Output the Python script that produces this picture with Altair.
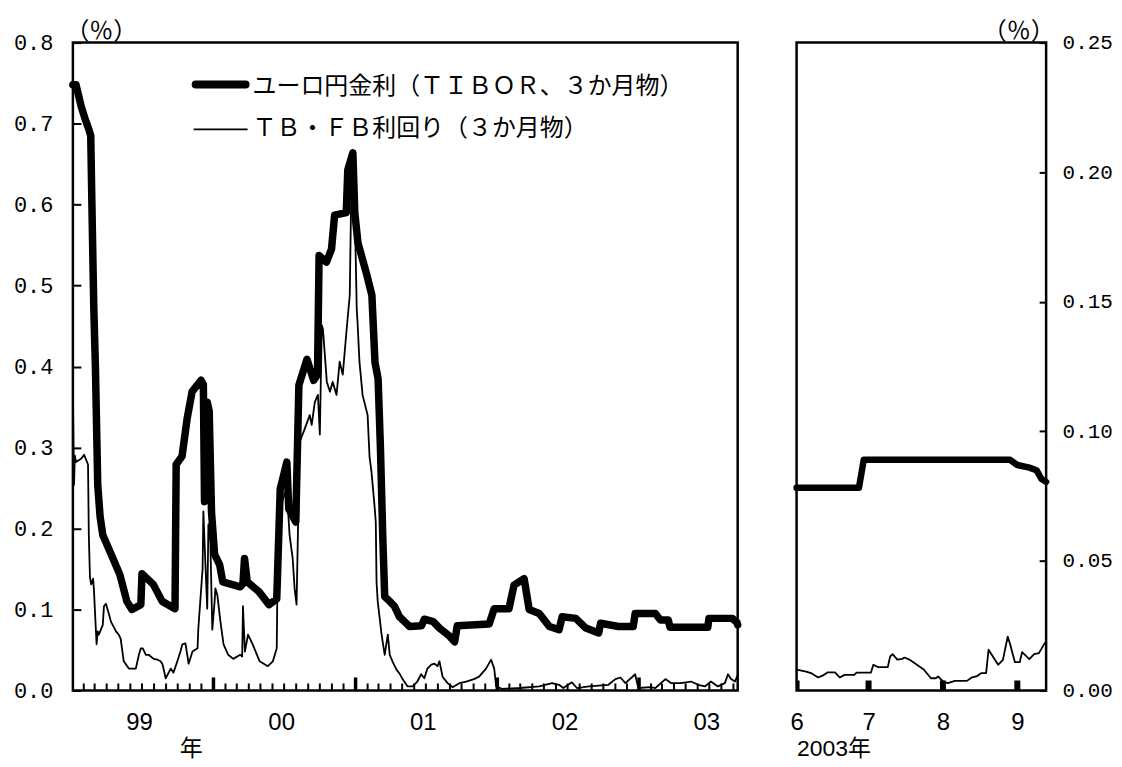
import altair as alt
import pandas as pd

# ---------------- data ----------------
tibor_dates = [
    "1999-01-04", "1999-01-12", "1999-01-25", "1999-02-05", "1999-02-14", "1999-02-19", "1999-02-22",
    "1999-02-25", "1999-02-27", "1999-03-03", "1999-03-09", "1999-03-15", "1999-03-22", "1999-04-10",
    "1999-05-05", "1999-05-23", "1999-06-05", "1999-06-28", "1999-07-01", "1999-07-30", "1999-08-22",
    "1999-09-24", "1999-09-27", "1999-10-12", "1999-10-25", "1999-11-07", "1999-11-30", "1999-12-06",
    "1999-12-09", "1999-12-13", "1999-12-16", "1999-12-21", "1999-12-27", "2000-01-04", "2000-01-17",
    "2000-01-25", "2000-03-10", "2000-03-17", "2000-03-21", "2000-03-28", "2000-04-27", "2000-05-23",
    "2000-06-12", "2000-06-21", "2000-07-08", "2000-07-13", "2000-07-31", "2000-08-08", "2000-08-29",
    "2000-09-15", "2000-09-25", "2000-09-29", "2000-10-18", "2000-10-31", "2000-11-08", "2000-12-08",
    "2000-12-12", "2000-12-25", "2000-12-30", "2001-01-07", "2001-01-30", "2001-02-12", "2001-02-20",
    "2001-02-28", "2001-03-06", "2001-03-12", "2001-03-17", "2001-03-30", "2001-04-11", "2001-04-24",
    "2001-05-07", "2001-05-20", "2001-06-20", "2001-06-27", "2001-07-20", "2001-08-05", "2001-08-31",
    "2001-09-13", "2001-09-20", "2001-12-11", "2001-12-24", "2002-01-31", "2002-02-13", "2002-03-11",
    "2002-03-24", "2002-04-19", "2002-05-15", "2002-06-09", "2002-06-17", "2002-07-22", "2002-08-17",
    "2002-09-19", "2002-09-24", "2002-11-09", "2002-12-17", "2002-12-22", "2003-02-12", "2003-02-25",
    "2003-03-17", "2003-03-22", "2003-06-27", "2003-06-30", "2003-08-29", "2003-09-05", "2003-09-10",
    "2003-09-12",
]
tibor_vals = [
    0.748, 0.748, 0.722, 0.705, 0.693, 0.685, 0.600,
    0.520, 0.470, 0.400, 0.254, 0.215, 0.192, 0.171,
    0.143, 0.110, 0.100, 0.106, 0.144, 0.131, 0.110,
    0.101, 0.279, 0.289, 0.335, 0.369, 0.383, 0.378,
    0.233, 0.235, 0.356, 0.345, 0.220, 0.168, 0.155,
    0.134, 0.128, 0.132, 0.163, 0.134, 0.122, 0.106,
    0.113, 0.249, 0.282, 0.224, 0.208, 0.377, 0.409,
    0.383, 0.390, 0.537, 0.529, 0.545, 0.587, 0.590,
    0.643, 0.664, 0.590, 0.553, 0.513, 0.488, 0.405,
    0.385, 0.300, 0.190, 0.116, 0.110, 0.104, 0.091,
    0.085, 0.079, 0.080, 0.088, 0.085, 0.077, 0.067,
    0.060, 0.080, 0.082, 0.101, 0.101, 0.130, 0.138,
    0.100, 0.095, 0.079, 0.075, 0.091, 0.089, 0.077,
    0.071, 0.083, 0.079, 0.079, 0.095, 0.095, 0.087,
    0.087, 0.078, 0.078, 0.089, 0.089, 0.086, 0.084,
    0.081,
]

tb_dates = [
    "1999-01-04", "1999-01-07", "1999-01-09", "1999-01-12", "1999-01-25", "1999-02-02", "1999-02-12",
    "1999-02-14", "1999-02-17", "1999-02-20", "1999-02-25", "1999-02-27", "1999-03-06", "1999-03-09",
    "1999-03-12", "1999-03-22", "1999-03-25", "1999-03-30", "1999-04-07", "1999-04-12", "1999-04-25",
    "1999-05-02", "1999-05-07", "1999-05-15", "1999-05-28", "1999-06-10", "1999-06-15", "1999-06-23",
    "1999-06-28", "1999-07-03", "1999-07-11", "1999-07-18", "1999-07-31", "1999-08-10", "1999-08-18",
    "1999-08-23", "1999-08-31", "1999-09-13", "1999-09-20", "1999-09-30", "1999-10-08", "1999-10-13",
    "1999-10-21", "1999-10-29", "1999-11-08", "1999-11-21", "1999-11-23", "1999-12-04", "1999-12-06",
    "1999-12-11", "1999-12-16", "1999-12-19", "1999-12-24", "1999-12-29", "2000-01-04", "2000-01-06",
    "2000-01-11", "2000-01-19", "2000-01-27", "2000-02-08", "2000-02-21", "2000-03-10", "2000-03-15",
    "2000-03-17", "2000-03-22", "2000-03-30", "2000-04-11", "2000-04-29", "2000-05-20", "2000-06-02",
    "2000-06-12", "2000-06-14", "2000-06-25", "2000-07-08", "2000-07-15", "2000-07-23", "2000-07-28",
    "2000-08-02", "2000-08-10", "2000-08-23", "2000-09-05", "2000-09-10", "2000-09-18", "2000-09-26",
    "2000-10-01", "2000-10-06", "2000-10-09", "2000-10-19", "2000-10-27", "2000-11-03", "2000-11-13",
    "2000-11-21", "2000-11-29", "2000-12-09", "2000-12-17", "2000-12-22", "2000-12-27", "2001-01-04",
    "2001-01-06", "2001-01-11", "2001-01-19", "2001-02-01", "2001-02-06", "2001-02-11", "2001-02-19",
    "2001-02-22", "2001-02-24", "2001-02-27", "2001-03-09", "2001-03-17", "2001-03-25", "2001-03-30",
    "2001-04-06", "2001-04-16", "2001-04-24", "2001-05-02", "2001-05-15", "2001-05-28", "2001-06-09",
    "2001-06-19", "2001-06-27", "2001-07-05", "2001-07-15", "2001-07-23", "2001-07-31", "2001-08-05",
    "2001-08-13", "2001-08-26", "2001-09-08", "2001-09-25", "2001-10-13", "2001-11-02", "2001-11-15",
    "2001-12-03", "2001-12-16", "2001-12-24", "2001-12-29", "2002-01-13", "2002-03-01", "2002-04-19",
    "2002-05-22", "2002-06-09", "2002-06-20", "2002-07-12", "2002-07-25", "2002-08-25", "2002-10-14",
    "2002-11-01", "2002-11-14", "2002-11-27", "2002-12-22", "2002-12-30", "2003-01-30", "2003-02-12",
    "2003-03-10", "2003-03-25", "2003-04-19", "2003-05-15", "2003-06-02", "2003-06-20", "2003-07-05",
    "2003-07-23", "2003-08-10", "2003-08-18", "2003-08-26", "2003-09-05", "2003-09-12",
]
tb_vals = [
    0.370, 0.254, 0.290, 0.282, 0.286, 0.291, 0.279,
    0.192, 0.140, 0.131, 0.138, 0.126, 0.057, 0.073,
    0.069, 0.081, 0.104, 0.107, 0.094, 0.085, 0.073,
    0.069, 0.064, 0.036, 0.027, 0.027, 0.027, 0.044,
    0.052, 0.052, 0.044, 0.044, 0.039, 0.038, 0.036,
    0.032, 0.015, 0.027, 0.022, 0.036, 0.048, 0.057,
    0.058, 0.033, 0.048, 0.052, 0.076, 0.150, 0.221,
    0.159, 0.101, 0.205, 0.184, 0.075, 0.110, 0.126,
    0.118, 0.085, 0.057, 0.044, 0.039, 0.044, 0.042,
    0.104, 0.048, 0.069, 0.057, 0.036, 0.030, 0.036,
    0.052, 0.143, 0.233, 0.249, 0.192, 0.163, 0.126,
    0.106, 0.307, 0.323, 0.340, 0.328, 0.356, 0.365,
    0.316, 0.451, 0.446, 0.381, 0.369, 0.381, 0.365,
    0.406, 0.390, 0.446, 0.488, 0.652, 0.664, 0.471,
    0.455, 0.406, 0.365, 0.340, 0.288, 0.270, 0.227,
    0.208, 0.134, 0.110, 0.069, 0.044, 0.069, 0.044,
    0.036, 0.026, 0.021, 0.014, 0.005, 0.005, 0.011,
    0.020, 0.015, 0.027, 0.032, 0.033, 0.030, 0.036,
    0.017, 0.009, 0.004, 0.009, 0.011, 0.014, 0.017,
    0.027, 0.038, 0.027, 0.005, 0.002, 0.003, 0.005,
    0.009, 0.007, 0.003, 0.010, 0.003, 0.005, 0.007,
    0.014, 0.016, 0.009, 0.020, 0.003, 0.004, 0.003,
    0.014, 0.009, 0.009, 0.011, 0.007, 0.005, 0.011,
    0.005, 0.009, 0.020, 0.014, 0.011, 0.019,
]

tibor_r_dates = ["2003-06-01", "2003-06-27", "2003-06-29", "2003-08-29", "2003-09-01",
                 "2003-09-06", "2003-09-09", "2003-09-11", "2003-09-13"]
tibor_r_vals = [0.0782, 0.0782, 0.0890, 0.0890, 0.0870, 0.0860, 0.0850, 0.0817, 0.0805]

tb_r_dates = [
    "2003-06-01", "2003-06-05", "2003-06-07", "2003-06-10", "2003-06-12", "2003-06-14", "2003-06-17",
    "2003-06-19", "2003-06-21", "2003-06-25", "2003-06-26", "2003-07-02", "2003-07-03", "2003-07-05",
    "2003-07-09", "2003-07-10", "2003-07-11", "2003-07-13", "2003-07-15", "2003-07-16", "2003-07-18",
    "2003-07-21", "2003-07-24", "2003-07-27", "2003-07-29", "2003-07-30", "2003-08-01", "2003-08-03",
    "2003-08-06", "2003-08-11", "2003-08-13", "2003-08-15", "2003-08-17", "2003-08-19", "2003-08-20",
    "2003-08-24", "2003-08-26", "2003-08-28", "2003-08-29", "2003-08-31", "2003-09-02", "2003-09-03",
    "2003-09-06", "2003-09-08", "2003-09-10", "2003-09-12", "2003-09-13",
]
tb_r_vals = [
    0.0080, 0.0073, 0.0067, 0.0050, 0.0058, 0.0070, 0.0070,
    0.0050, 0.0060, 0.0060, 0.0069, 0.0069, 0.0099, 0.0090,
    0.0090, 0.0131, 0.0140, 0.0119, 0.0122, 0.0127, 0.0119,
    0.0100, 0.0081, 0.0047, 0.0047, 0.0054, 0.0035, 0.0028,
    0.0037, 0.0037, 0.0050, 0.0054, 0.0067, 0.0067, 0.0157,
    0.0099, 0.0118, 0.0208, 0.0178, 0.0109, 0.0109, 0.0148,
    0.0121, 0.0140, 0.0144, 0.0176, 0.0189,
]

legend_labels = ["ユーロ円金利（ＴＩＢＯＲ、３か月物）", "ＴＢ・ＦＢ利回り（３か月物）"]
year_label_years = [1999, 2000, 2001, 2002, 2003]
left_y_ticks = [0.0, 0.1, 0.2, 0.3, 0.4, 0.5, 0.6, 0.7, 0.8]
right_y_ticks = [0.00, 0.05, 0.10, 0.15, 0.20, 0.25]
right_month_ticks = ["2003-06-01", "2003-07-01", "2003-08-01", "2003-09-01"]
unit_label = "（％）"
left_x_title = "年"
right_x_title = "2003年"

# ---------------- styling ----------------
LAT = "Liberation Sans"
MONO = "Liberation Mono"
CJK = "Noto Sans CJK JP"
MIXED = "Liberation Sans, Noto Sans CJK JP"
W1, W2, H = 666, 250, 649

month_starts = pd.date_range("1999-02-01", "2003-09-01", freq="MS")
small_ticks = pd.DataFrame({"date": [d.strftime("%Y-%m-%d") for d in month_starts if d.month != 1]})
big_ticks = pd.DataFrame({"date": [d.strftime("%Y-%m-%d") for d in month_starts if d.month == 1]})

left_df = pd.DataFrame({"date": tibor_dates, "val": tibor_vals})
tb_df = pd.DataFrame({"date": tb_dates, "val": tb_vals})
right_tibor_df = pd.DataFrame({"date": tibor_r_dates, "val": tibor_r_vals})
right_tb_df = pd.DataFrame({"date": tb_r_dates, "val": tb_r_vals})
right_ticks_df = pd.DataFrame({"date": right_month_ticks})

xl = alt.X(
    "date:T",
    scale=alt.Scale(type="utc", domain=[alt.DateTime(year=1999, month=1, date=4, utc=True),
                                        alt.DateTime(year=2003, month=9, date=12, utc=True)]),
    axis=alt.Axis(
        values=[alt.DateTime(year=y, month=7, date=1, utc=True) for y in year_label_years],
        format="%y", ticks=False, tickSize=0, domain=False, grid=False,
        labelPadding=20, labelOffset=-3, labelFont=LAT, labelFontSize=24, labelColor="black",
        labelFlush=False, labelOverlap=False,
        title=left_x_title, titleX=118, titleY=58, titleAlign="center", titleBaseline="middle",
        titleFont=MIXED, titleFontSize=23, titleFontWeight="normal", titleColor="black",
    ),
)
yl = alt.Y(
    "val:Q",
    scale=alt.Scale(domain=[0, 0.8], nice=False, zero=True),
    axis=alt.Axis(
        values=left_y_ticks, format=".1f", offset=-8, tickSize=8, tickWidth=2, tickColor="black",
        domain=False, grid=False, labelPadding=20, labelFont=MONO, labelFontSize=22, labelColor="black",
        labelFlush=False,
        title=unit_label, titleAngle=0, titleX=20, titleY=-11, titleAlign="center",
        titleBaseline="middle", titleFont=CJK, titleFontSize=24, titleFontWeight="normal",
        titleColor="black",
    ),
)

tibor_line = alt.Chart(left_df).mark_line(
    color="black", strokeWidth=7.5, strokeJoin="round", strokeCap="round"
).encode(x=xl, y=yl)
tb_line = alt.Chart(tb_df).mark_line(color="black", strokeWidth=1.8, strokeJoin="round").encode(x=xl, y=yl)
small_tick_rules = alt.Chart(small_ticks).mark_rule(color="black", strokeWidth=2).encode(
    x=xl, y=alt.value(H), y2=alt.value(H - 7))
big_tick_rules = alt.Chart(big_ticks).mark_rule(color="black", strokeWidth=3.5).encode(
    x=xl, y=alt.value(H), y2=alt.value(H - 13))

leg1_df = pd.DataFrame({"label": [legend_labels[0]]})
leg2_df = pd.DataFrame({"label": [legend_labels[1]]})
leg1_rule = alt.Chart(leg1_df).mark_rule(color="black", strokeWidth=8, strokeCap="round").encode(
    x=alt.value(123), x2=alt.value(173), y=alt.value(42))
leg2_rule = alt.Chart(leg2_df).mark_rule(color="black", strokeWidth=1.8).encode(
    x=alt.value(121), x2=alt.value(175), y=alt.value(87))
leg1_text = alt.Chart(leg1_df).mark_text(
    align="left", baseline="middle", font=CJK, fontSize=24, color="black"
).encode(x=alt.value(180), y=alt.value(44), text="label:N")
leg2_text = alt.Chart(leg2_df).mark_text(
    align="left", baseline="middle", font=CJK, fontSize=24, color="black"
).encode(x=alt.value(180), y=alt.value(87), text="label:N")

left = alt.layer(
    tibor_line, tb_line, small_tick_rules, big_tick_rules, leg1_rule, leg2_rule, leg1_text, leg2_text
).properties(width=W1, height=H)

xr = alt.X(
    "date:T",
    scale=alt.Scale(type="utc", domain=[alt.DateTime(year=2003, month=6, date=1, utc=True),
                                        alt.DateTime(year=2003, month=9, date=13, utc=True)]),
    axis=alt.Axis(
        values=[alt.DateTime(year=2003, month=m, date=1, utc=True) for m in [6, 7, 8, 9]],
        format="%-m", ticks=False, tickSize=0, domain=False, grid=False,
        labelPadding=20, labelFont=LAT, labelFontSize=24, labelColor="black",
        labelFlush=False, labelOverlap=False,
        title=right_x_title, titleX=0, titleY=58, titleAlign="left", titleBaseline="middle",
        titleFont=MIXED, titleFontSize=23, titleFontWeight="normal", titleColor="black",
    ),
)
yr = alt.Y(
    "val:Q",
    scale=alt.Scale(domain=[0, 0.25], nice=False, zero=True),
    axis=alt.Axis(
        orient="right", values=right_y_ticks, format=".2f", offset=-7, tickSize=7, tickWidth=2,
        tickColor="black", domain=False, grid=False, labelPadding=16, labelFont=MONO,
        labelFontSize=21, labelColor="black", labelFlush=False,
        title=unit_label, titleAngle=0, titleX=-21, titleY=-11, titleAlign="center",
        titleBaseline="middle", titleFont=CJK, titleFontSize=24, titleFontWeight="normal",
        titleColor="black",
    ),
)

tibor_r = alt.Chart(right_tibor_df).mark_line(
    color="black", strokeWidth=6.5, strokeJoin="round", strokeCap="round"
).encode(x=xr, y=yr)
tb_r = alt.Chart(right_tb_df).mark_line(color="black", strokeWidth=1.8, strokeJoin="round").encode(x=xr, y=yr)
r_ticks = alt.Chart(right_ticks_df).mark_rule(color="black", strokeWidth=6, clip=True).encode(
    x=xr, y=alt.value(H), y2=alt.value(H - 10))

right = alt.layer(tibor_r, tb_r, r_ticks).properties(width=W2, height=H)

chart = alt.hconcat(left, right, spacing=46).properties(
    padding={"left": 4, "top": 9, "right": 0, "bottom": 0}
).configure_view(stroke="black", strokeWidth=2.5)

chart.save("out.html", embed_options={"renderer": "svg", "actions": False})
